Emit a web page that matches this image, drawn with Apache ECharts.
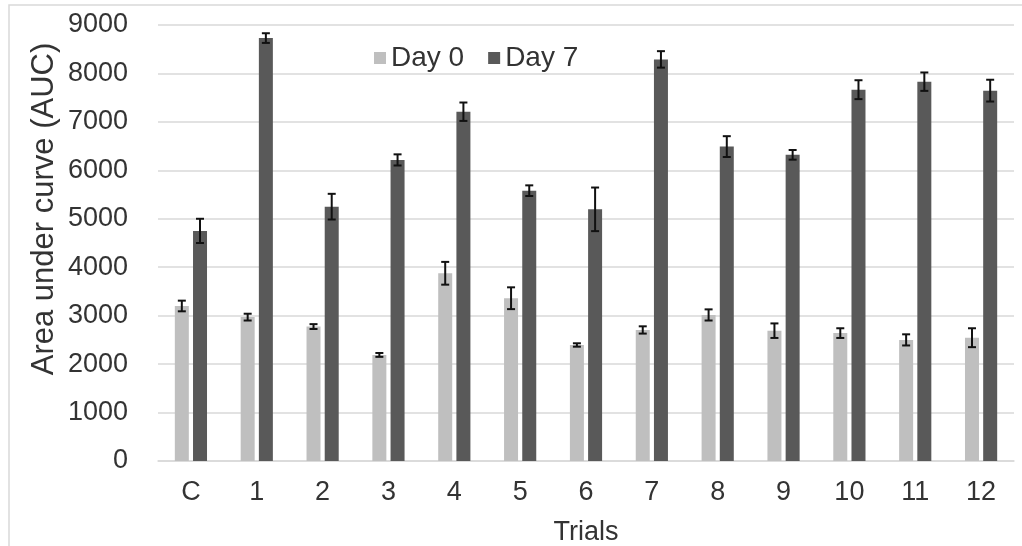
<!DOCTYPE html>
<html>
<head>
<meta charset="utf-8">
<title>Area under curve by trial</title>
<script src="https://cdn.jsdelivr.net/npm/echarts@6/dist/echarts.min.js"></script>
<style>
  html, body { margin: 0; padding: 0; background: #ffffff; }
  #chart { width: 1022px; height: 546px; }
</style>
</head>
<body>
<div id="chart"></div>
<script>
// Trial categories (C = control)
const categories = ['C', '1', '2', '3', '4', '5', '6', '7', '8', '9', '10', '11', '12'];

// Mean AUC per trial
const day0 = [3200, 2970, 2775, 2190, 3875, 3360, 2395, 2705, 3015, 2690, 2640, 2500, 2545];
const day7 = [4750, 8730, 5250, 6215, 7210, 5580, 5195, 8290, 6490, 6320, 7665, 7830, 7645];

// Error (± half-length of each error bar)
const day0Err = [110, 70, 50, 40, 235, 225, 35, 75, 115, 150, 100, 115, 195];
const day7Err = [250, 100, 265, 115, 190, 110, 450, 170, 215, 100, 195, 190, 225];

// Y axis ticks
const yMin = 0;
const yMax = 9000;
const yStep = 1000;

const seriesNames = ['Day 0', 'Day 7'];
const colors = ['#bfbfbf', '#595959'];
const textColor = '#333333';
const fontFamily = '"Liberation Sans", Arial, sans-serif';

const BAR_WIDTH = 14;
const BAR_GAP_PX = 4.2;
const barOffsets = [-(BAR_WIDTH + BAR_GAP_PX) / 2, (BAR_WIDTH + BAR_GAP_PX) / 2];

function errorBarRenderer(offset) {
  return function (params, api) {
    const idx = api.value(0);
    const val = api.value(1);
    const err = api.value(2);
    const hi = api.coord([idx, val + err]);
    const lo = api.coord([idx, val - err]);
    const x = hi[0] + offset;
    const cap = 4;
    const style = { stroke: '#111111', lineWidth: 2 };
    return {
      type: 'group',
      children: [
        { type: 'line', shape: { x1: x, y1: hi[1], x2: x, y2: lo[1] }, style: style },
        { type: 'line', shape: { x1: x - cap, y1: hi[1], x2: x + cap, y2: hi[1] }, style: style },
        { type: 'line', shape: { x1: x - cap, y1: lo[1], x2: x + cap, y2: lo[1] }, style: style }
      ]
    };
  };
}

function errorData(values, errs) {
  return values.map(function (v, i) { return [i, v, errs[i]]; });
}

const chart = echarts.init(document.getElementById('chart'), null, { renderer: 'canvas' });

chart.setOption({
  animation: false,
  backgroundColor: '#ffffff',
  textStyle: { fontFamily: fontFamily },
  grid: {
    left: 158, right: 8, top: 25, bottom: 85,
    containLabel: false,
    outerBoundsMode: 'none'
  },
  legend: {
    data: seriesNames,
    left: 369,
    top: 39,
    icon: 'rect',
    itemWidth: 12,
    itemHeight: 12,
    itemGap: 24,
    textStyle: { fontSize: 28, color: textColor, fontFamily: fontFamily }
  },
  graphic: [
    {
      type: 'rect',
      silent: true,
      shape: { x: 9, y: 5, width: 1040, height: 570 },
      style: { fill: 'none', stroke: '#d9d9d9', lineWidth: 1.5 }
    },
    {
      type: 'text',
      silent: true,
      x: 44,
      y: 209,
      rotation: Math.PI / 2,
      style: {
        text: 'Area under curve (AUC)',
        fontSize: 31,
        fontFamily: fontFamily,
        fill: textColor,
        align: 'center',
        verticalAlign: 'middle'
      }
    }
  ],
  xAxis: {
    type: 'category',
    data: categories,
    name: 'Trials',
    nameLocation: 'middle',
    nameGap: 58,
    nameTextStyle: { fontSize: 27, color: textColor },
    axisLine: { lineStyle: { color: '#d9d9d9', width: 1.5 } },
    axisTick: { show: false },
    axisLabel: { fontSize: 27, color: textColor, margin: 18 }
  },
  yAxis: {
    type: 'value',
    min: yMin,
    max: yMax,
    interval: yStep,
    axisLine: { show: false },
    axisTick: { show: false },
    axisLabel: {
      fontSize: 27,
      color: textColor,
      margin: 30,
      formatter: function (v) { return String(v); }
    },
    splitLine: { lineStyle: { color: '#d9d9d9', width: 1.5 } }
  },
  series: [
    {
      name: seriesNames[0],
      type: 'bar',
      data: day0,
      barWidth: BAR_WIDTH,
      barGap: (BAR_GAP_PX / BAR_WIDTH * 100) + '%',
      itemStyle: { color: colors[0] }
    },
    {
      name: seriesNames[1],
      type: 'bar',
      data: day7,
      barWidth: BAR_WIDTH,
      itemStyle: { color: colors[1] }
    },
    {
      name: seriesNames[0] + ' error',
      type: 'custom',
      renderItem: errorBarRenderer(barOffsets[0]),
      data: errorData(day0, day0Err),
      encode: { x: 0, y: [1, 2] },
      z: 10
    },
    {
      name: seriesNames[1] + ' error',
      type: 'custom',
      renderItem: errorBarRenderer(barOffsets[1]),
      data: errorData(day7, day7Err),
      encode: { x: 0, y: [1, 2] },
      z: 10
    }
  ]
});
</script>
</body>
</html>
